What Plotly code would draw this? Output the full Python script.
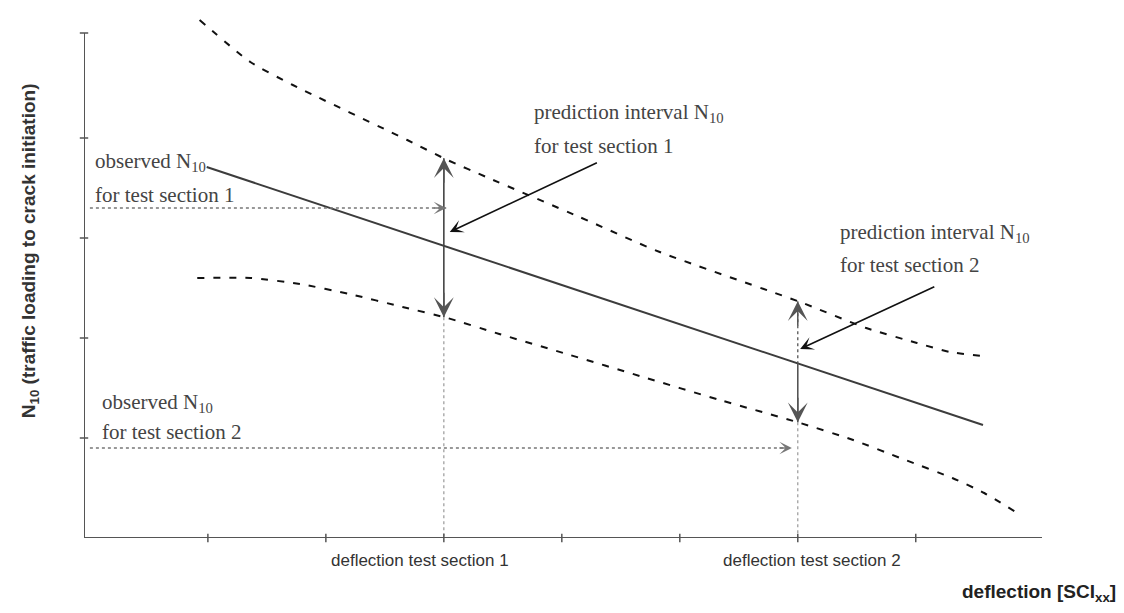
import numpy as np
import plotly.graph_objects as go

# ---------------- data (schematic units) ----------------
x_ticks = [1, 2, 3, 4, 5, 6, 7]
y_ticks = [1, 2, 3, 4, 5.05]
x_axis_end = 8.07
y_axis_end = 5.05

sections = [3.0, 6.0]
section_labels = ["deflection test section 1", "deflection test section 2"]
section_label_x = [0.3507, 0.7599]   # paper fraction

fit_x = [0.99, 7.57]
fit_y = [3.71, 1.13]

upper_x = [0.93, 1.36, 1.72, 2.69, 3.03, 3.36, 4.15, 4.83, 6.02, 6.58, 7.01, 7.29, 7.57]
upper_y = [5.18, 4.76, 4.53, 3.98, 3.78, 3.61, 3.21, 2.86, 2.36, 2.10, 1.95, 1.86, 1.82]

lower_x = [0.91, 1.36, 1.78, 2.20, 2.65, 3.03, 3.47, 4.07, 4.66, 5.34, 6.02, 6.47, 6.89, 7.31, 7.58, 7.86]
lower_y = [2.60, 2.60, 2.54, 2.44, 2.31, 2.20, 2.04, 1.83, 1.62, 1.38, 1.15, 0.98, 0.79, 0.60, 0.45, 0.25]

observed = [3.30, 0.90]
observed_tip_x = [3.02, 5.95]

# pointer arrows: (tail -> tip)
pointer_tail = [(4.31, 3.76), (7.17, 2.52)]
pointer_tip = [(3.05, 3.06), (6.02, 1.89)]

# derived values at sections
upper_at = [float(np.interp(s, upper_x, upper_y)) for s in sections]
lower_at = [float(np.interp(s, lower_x, lower_y)) for s in sections]
fit_at = [float(np.interp(s, fit_x, fit_y)) for s in sections]

TXT = "#444444"
SERIF = "Liberation Serif, Times New Roman, serif"
SANS = "Liberation Sans, Arial, sans-serif"

fig = go.Figure()

dash_line = dict(color="#111", width=2, dash="7px,9px", shape="spline", smoothing=0.6)
fig.add_trace(go.Scatter(x=upper_x, y=upper_y, mode="lines", line=dash_line, hoverinfo="skip"))
fig.add_trace(go.Scatter(x=lower_x, y=lower_y, mode="lines", line=dash_line, hoverinfo="skip"))
fig.add_trace(go.Scatter(x=fit_x, y=fit_y, mode="lines",
                         line=dict(color="#3c3c3c", width=2), hoverinfo="skip"))

for obs, tipx in zip(observed, observed_tip_x):
    fig.add_trace(go.Scatter(x=[0.0, tipx], y=[obs, obs], mode="lines",
                             line=dict(color="#777", width=1.3, dash="dot"), hoverinfo="skip"))

fig.add_trace(go.Scatter(x=[sections[0]] * 2, y=[upper_at[0], lower_at[0]], mode="lines",
                         line=dict(color="#444", width=1.6), hoverinfo="skip"))
fig.add_trace(go.Scatter(x=[sections[0]] * 2, y=[lower_at[0], 0], mode="lines",
                         line=dict(color="#999", width=1.2, dash="dot"), hoverinfo="skip"))
fig.add_trace(go.Scatter(x=[sections[1]] * 2, y=[upper_at[1], fit_at[1]], mode="lines",
                         line=dict(color="#555", width=1.3, dash="dot"), hoverinfo="skip"))
fig.add_trace(go.Scatter(x=[sections[1]] * 2, y=[fit_at[1], lower_at[1]], mode="lines",
                         line=dict(color="#555", width=1.6), hoverinfo="skip"))
fig.add_trace(go.Scatter(x=[sections[1]] * 2, y=[lower_at[1], 0], mode="lines",
                         line=dict(color="#999", width=1.2, dash="dot"), hoverinfo="skip"))

# axes
fig.add_trace(go.Scatter(x=[-0.05, -0.05], y=[0, y_axis_end], mode="lines",
                         line=dict(color="#555", width=2), hoverinfo="skip"))
fig.add_trace(go.Scatter(x=[-0.05, x_axis_end], y=[0, 0], mode="lines",
                         line=dict(color="#555", width=2), hoverinfo="skip", cliponaxis=False))
fig.add_trace(go.Scatter(x=x_ticks, y=[0] * len(x_ticks), mode="markers",
                         marker=dict(symbol="line-ns", size=6, line=dict(color="#555", width=1.5)),
                         hoverinfo="skip", cliponaxis=False))
fig.add_trace(go.Scatter(x=[-0.05] * len(y_ticks), y=y_ticks, mode="markers",
                         marker=dict(symbol="line-ew", size=6, line=dict(color="#555", width=1.5)),
                         hoverinfo="skip", cliponaxis=False))

ann = []
for s, u, l in zip(sections, upper_at, lower_at):
    ann.append(dict(x=s, y=u, ax=0, ay=26, xref="x", yref="y", text="", showarrow=True,
                    arrowhead=3, arrowsize=2.2, arrowwidth=1.5, arrowcolor="#555"))
    ann.append(dict(x=s, y=l, ax=0, ay=-26, xref="x", yref="y", text="", showarrow=True,
                    arrowhead=3, arrowsize=2.2, arrowwidth=1.5, arrowcolor="#555"))
for obs, tipx in zip(observed, observed_tip_x):
    ann.append(dict(x=tipx, y=obs, ax=-14, ay=0, xref="x", yref="y", text="", showarrow=True,
                    arrowhead=3, arrowsize=1.6, arrowwidth=1.3, arrowcolor="#777"))
for (tx, ty), (hx, hy) in zip(pointer_tail, pointer_tip):
    ann.append(dict(x=hx, y=hy, ax=tx, ay=ty, xref="x", yref="y", axref="x", ayref="y",
                    text="", showarrow=True, arrowhead=3, arrowsize=1.4, arrowwidth=1.6,
                    arrowcolor="#111"))

def txt(x, y, s, size=21, font=SERIF, anchor="left", color=TXT, angle=0, ref="data"):
    r = ("x", "y") if ref == "data" else ("paper", "paper")
    ann.append(dict(x=x, y=y, xref=r[0], yref=r[1], text=s, showarrow=False, xanchor=anchor,
                    yanchor="middle", textangle=angle, font=dict(family=font, size=size, color=color)))

txt(0.025, 3.76, "observed N<sub>10</sub>")
txt(0.025, 3.43, "for test section 1")
txt(3.75, 4.25, "prediction interval N<sub>10</sub>")
txt(3.75, 3.92, "for test section 1")
txt(6.34, 3.05, "prediction interval N<sub>10</sub>")
txt(6.34, 2.73, "for test section 2")
txt(0.085, 1.35, "observed N<sub>10</sub>")
txt(0.085, 1.06, "for test section 2")

for lx, lab in zip(section_label_x, section_labels):
    txt(lx, -0.042, lab, size=17, font=SANS, anchor="center", color="#333", ref="paper")

txt(1.0793, -0.105, "<b>deflection [SCI<sub>xx</sub>]</b>", size=19, font=SANS, anchor="right",
    color="#222", ref="paper")
txt(-0.0564, 0.545, "<b>N<sub>10</sub> (traffic loading to crack initiation)</b>", size=19, font=SANS,
    anchor="center", color="#333", angle=-90, ref="paper")

fig.update_layout(
    width=1124, height=613,
    margin=dict(l=84, r=82, t=10, b=75),
    plot_bgcolor="white", paper_bgcolor="white",
    showlegend=False,
    annotations=ann,
    xaxis=dict(range=[-0.05, x_axis_end], visible=False, fixedrange=True),
    yaxis=dict(range=[0, 5.28], visible=False, fixedrange=True),
)

fig.write_html("out.html")
